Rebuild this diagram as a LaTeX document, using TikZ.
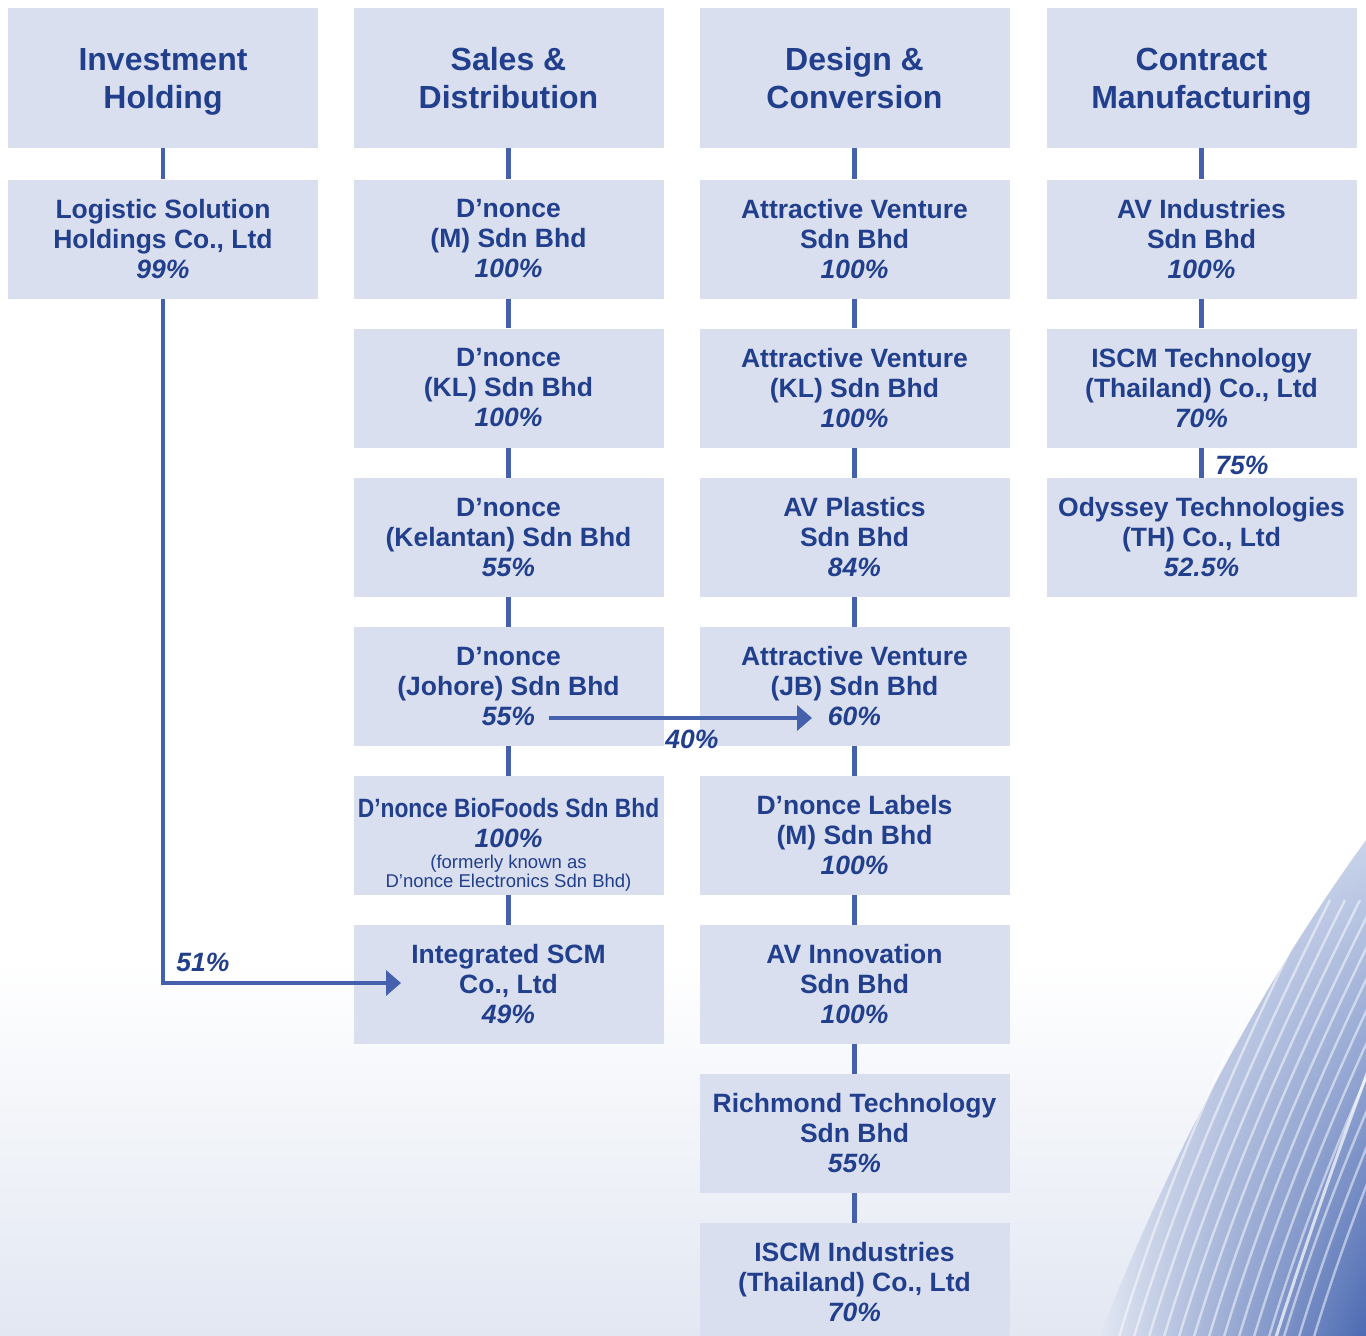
\documentclass[tikz,border=0pt]{standalone}
\usepackage{fontspec}
\setmainfont{Liberation Sans}
\usepackage{xcolor}
\usetikzlibrary{arrows.meta,shadings}

\definecolor{orgblue}{HTML}{213F8C}
\definecolor{linkblue}{HTML}{4561AD}
\definecolor{boxfill}{HTML}{D9DFEE}
\definecolor{hazeblue}{HTML}{E2E7F2}
\definecolor{paleblue}{HTML}{C9D3EA}
\definecolor{deepblue}{HTML}{4C6AB2}

\begin{document}
\begin{tikzpicture}[x=1pt, y=-1pt,
  every node/.style={text=orgblue, font=\bfseries},
  head/.style={fill=boxfill, inner sep=2pt, minimum width=310pt, minimum height=140pt,
    align=center, text depth=0pt, font=\bfseries\fontsize{32}{38}\selectfont},
  unit/.style={fill=boxfill, inner sep=2pt, minimum width=310pt, minimum height=119pt,
    align=center, font=\bfseries\fontsize{26.5}{30}\selectfont},
  share label/.style={font=\bfseries\itshape\fontsize{26.5}{30}\selectfont},
  link/.style={draw=linkblue, line width=4.6pt},
  share/.style={link, -{Triangle[length=15pt,width=25pt]}}]

  \useasboundingbox (0,0) rectangle (1366,1336);

  % page backdrop
  \fill[white] (0,0) rectangle (1366,1336);
  \shade[top color=white, bottom color=hazeblue] (0,960) rectangle (1366,1336);
  \shade[upper left=hazeblue, lower left=hazeblue, upper right=paleblue, lower right=deepblue]
    (1366,840) .. controls (1250,1000) and (1160,1180) .. (1100,1336) -- (1366,1336) -- cycle;
  \foreach \i in {0,...,13}
    \draw[white, opacity=0.5, line width=2.4pt]
      (1118+15*\i,1340) .. controls (1160+15*\i,1200) and (1220+15*\i,1060) .. (1300+15*\i,900);
  \draw[white, opacity=0.7, line width=3pt]
    (1275,1340) .. controls (1320,1200) and (1350,1120) .. (1372,1060);

  % segment headers
  \node (hInv) at (163,78) [head] {Investment\\Holding};
  \node (hSales) at (508.5,78) [head] {Sales \&\\Distribution};
  \node (hDesign) at (854.5,78) [head] {Design \&\\Conversion};
  \node (hContract) at (1201.5,78) [head] {Contract\\Manufacturing};

  % investment holding
  \node (lsol) at (163,239) [unit] {Logistic Solution\\Holdings Co., Ltd\\\textit{99\%}};

  % sales & distribution
  \node (dnM) at (508.5,239) [unit] {D’nonce\\(M) Sdn Bhd\\\textit{100\%}};
  \node (dnKL) at (508.5,388) [unit] {D’nonce\\(KL) Sdn Bhd\\\textit{100\%}};
  \node (dnKel) at (508.5,537.5) [unit] {D’nonce\\(Kelantan) Sdn Bhd\\\textit{55\%}};
  \node (dnJoh) at (508.5,686.5) [unit] {D’nonce\\(Johore) Sdn Bhd\\\textit{55\%}};
  \node (dnBio) at (508.5,835.5) [unit] {\rule{0pt}{39pt}\scalebox{0.86}[1]{D’nonce BioFoods Sdn Bhd}\\
    \textit{100\%}\\[-9pt]
    {\mdseries\fontsize{18.5}{18}\selectfont\begin{tabular}[t]{@{}c@{}}(formerly known as\\D’nonce Electronics Sdn Bhd)\end{tabular}}};
  \node (iscm) at (508.5,984.5) [unit] {Integrated SCM\\Co., Ltd\\\textit{49\%}};

  % design & conversion
  \node (avSdn) at (854.5,239) [unit] {Attractive Venture\\Sdn Bhd\\\textit{100\%}};
  \node (avKL) at (854.5,388) [unit] {Attractive Venture\\(KL) Sdn Bhd\\\textit{100\%}};
  \node (avPl) at (854.5,537.5) [unit] {AV Plastics\\Sdn Bhd\\\textit{84\%}};
  \node (avJB) at (854.5,686.5) [unit] {Attractive Venture\\(JB) Sdn Bhd\\\textit{60\%}};
  \node (dnLab) at (854.5,835.5) [unit] {D’nonce Labels\\(M) Sdn Bhd\\\textit{100\%}};
  \node (avInn) at (854.5,984.5) [unit] {AV Innovation\\Sdn Bhd\\\textit{100\%}};
  \node (rich) at (854.5,1133.5) [unit] {Richmond Technology\\Sdn Bhd\\\textit{55\%}};
  \node (iscmInd) at (854.5,1282.5) [unit] {ISCM Industries\\(Thailand) Co., Ltd\\\textit{70\%}};

  % contract manufacturing
  \node (avInd) at (1201.5,239) [unit] {AV Industries\\Sdn Bhd\\\textit{100\%}};
  \node (iscmTech) at (1201.5,388) [unit] {ISCM Technology\\(Thailand) Co., Ltd\\\textit{70\%}};
  \node (odys) at (1201.5,537.5) [unit] {Odyssey Technologies\\(TH) Co., Ltd\\\textit{52.5\%}};

  % ownership lines
  \draw[link] (hInv) -- (lsol);
  \draw[link] (hSales) -- (dnM);
  \draw[link] (dnM) -- (dnKL);
  \draw[link] (dnKL) -- (dnKel);
  \draw[link] (dnKel) -- (dnJoh);
  \draw[link] (dnJoh) -- (dnBio);
  \draw[link] (dnBio) -- (iscm);
  \draw[link] (hDesign) -- (avSdn);
  \draw[link] (avSdn) -- (avKL);
  \draw[link] (avKL) -- (avPl);
  \draw[link] (avPl) -- (avJB);
  \draw[link] (avJB) -- (dnLab);
  \draw[link] (dnLab) -- (avInn);
  \draw[link] (avInn) -- (rich);
  \draw[link] (rich) -- (iscmInd);
  \draw[link] (hContract) -- (avInd);
  \draw[link] (avInd) -- (iscmTech);
  \draw[link] (iscmTech) -- (odys);
  \node (pct75) at (1242,465) [share label] {75\%};

  % cross holdings
  \coordinate (tip51) at (401,983);
  \draw[share] (lsol) |- (tip51);
  \node (pct51) at (203,962) [share label] {51\%};
  \coordinate (from40) at (549,718);
  \coordinate (tip40) at (812,718);
  \draw[share] (from40) -- (tip40);
  \node (pct40) at (692,739) [share label] {40\%};
\end{tikzpicture}
\end{document}
